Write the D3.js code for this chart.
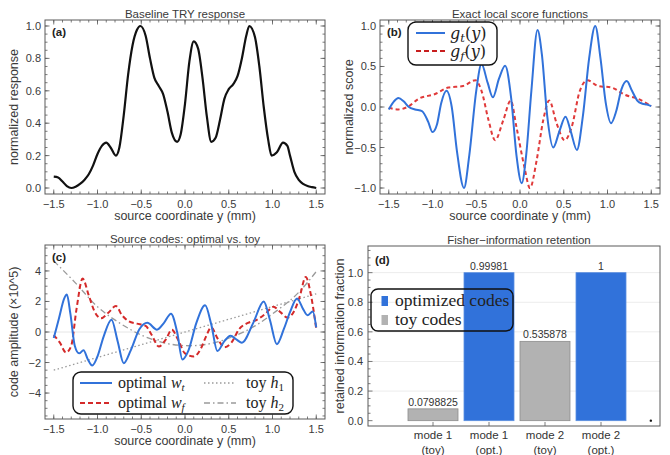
<!DOCTYPE html>
<html>
<head>
<meta charset="utf-8">
<script src="https://cdn.jsdelivr.net/npm/d3@7"></script>
<style>
  body { margin: 0; background: #fff; }
  svg { display: block; font-family: "Liberation Sans", Arial, sans-serif; }
</style>
</head>
<body>
<div id="chart"></div>
<script>
// (a) baseline response, [y, value]
const responsePts = [[-1.5,0.07],[-1.45,0.065],[-1.4,0.04],[-1.35,0.012],[-1.3,0.0],[-1.25,0.008],[-1.2,0.025],[-1.15,0.05],[-1.1,0.085],[-1.05,0.14],[-1.0,0.21],[-0.95,0.26],[-0.9,0.28],[-0.85,0.25],[-0.79,0.2],[-0.75,0.25],[-0.7,0.45],[-0.65,0.7],[-0.6,0.88],[-0.55,0.975],[-0.51,1.0],[-0.45,0.94],[-0.4,0.8],[-0.35,0.68],[-0.3,0.63],[-0.25,0.58],[-0.2,0.47],[-0.15,0.34],[-0.09,0.285],[-0.05,0.33],[0.0,0.52],[0.05,0.78],[0.1,0.905],[0.15,0.86],[0.2,0.68],[0.25,0.44],[0.3,0.285],[0.35,0.31],[0.4,0.42],[0.45,0.55],[0.5,0.61],[0.55,0.64],[0.6,0.69],[0.65,0.8],[0.7,0.94],[0.735,1.0],[0.8,0.93],[0.85,0.75],[0.9,0.5],[0.95,0.3],[0.99,0.2],[1.05,0.22],[1.12,0.28],[1.17,0.26],[1.2,0.2],[1.25,0.1],[1.3,0.05],[1.35,0.025],[1.4,0.012],[1.45,0.005],[1.5,0.0]];

// (b) score functions
const gtPts = [[-1.5,-0.03],[-1.44,0.07],[-1.39,0.11],[-1.33,0.07],[-1.27,0.0],[-1.2,-0.03],[-1.12,-0.05],[-1.05,-0.18],[-1.0,-0.31],[-0.95,-0.22],[-0.9,0.05],[-0.84,0.2],[-0.78,0.0],[-0.72,-0.55],[-0.64,-1.0],[-0.58,-0.6],[-0.5,0.2],[-0.44,0.53],[-0.37,0.3],[-0.31,0.12],[-0.24,0.35],[-0.17,0.51],[-0.1,0.1],[-0.04,-0.6],[0.02,-0.94],[0.07,-0.6],[0.13,0.2],[0.2,0.95],[0.25,0.65],[0.31,-0.1],[0.38,-0.5],[0.45,-0.3],[0.52,-0.12],[0.58,-0.3],[0.65,-0.53],[0.72,-0.1],[0.79,0.6],[0.86,1.0],[0.92,0.6],[0.98,0.05],[1.04,-0.2],[1.1,-0.05],[1.16,0.22],[1.22,0.32],[1.28,0.2],[1.34,0.08],[1.4,0.04],[1.45,0.03],[1.5,0.01]];
const gfPts = [[-1.5,-0.01],[-1.39,-0.03],[-1.27,0.01],[-1.16,0.1],[-0.97,0.16],[-0.82,0.24],[-0.65,0.26],[-0.51,0.33],[-0.44,0.2],[-0.36,-0.16],[-0.285,-0.41],[-0.19,-0.16],[-0.106,0.08],[-0.04,-0.25],[0.05,-0.74],[0.114,-1.0],[0.19,-0.66],[0.266,-0.16],[0.334,0.08],[0.418,-0.2],[0.51,-0.41],[0.59,-0.25],[0.684,0.2],[0.77,0.33],[0.89,0.26],[1.045,0.24],[1.2,0.15],[1.35,0.1],[1.5,0.01]];

// (c) source codes (x 10^5)
const wtPts = [[-1.5,-0.4],[-1.44,0.9],[-1.38,2.2],[-1.35,2.45],[-1.31,1.2],[-1.26,-0.9],[-1.21,-1.4],[-1.16,-1.2],[-1.11,-1.8],[-1.06,-2.2],[-1.0,-1.6],[-0.93,-0.3],[-0.84,0.8],[-0.77,-0.6],[-0.7,-2.05],[-0.62,-1.2],[-0.52,0.2],[-0.43,0.6],[-0.32,0.15],[-0.24,0.6],[-0.16,1.2],[-0.09,0.0],[-0.03,-1.8],[0.04,-1.2],[0.13,0.6],[0.23,1.75],[0.3,0.5],[0.37,-1.25],[0.45,-0.6],[0.52,-0.25],[0.59,-0.5],[0.65,-0.7],[0.78,0.6],[0.9,2.0],[0.97,0.8],[1.05,-0.8],[1.13,0.2],[1.2,1.3],[1.28,2.2],[1.35,1.5],[1.4,1.1],[1.46,1.35],[1.5,0.3]];
const wfPts = [[-1.5,-0.2],[-1.43,-0.7],[-1.36,-1.35],[-1.3,-0.9],[-1.24,1.5],[-1.17,3.5],[-1.1,2.4],[-1.03,1.3],[-0.96,0.9],[-0.87,1.3],[-0.79,1.7],[-0.72,1.1],[-0.64,0.7],[-0.55,0.55],[-0.45,0.4],[-0.38,-0.2],[-0.3,-0.95],[-0.22,-0.5],[-0.15,0.15],[-0.08,-0.5],[0.0,-1.4],[0.1,-1.6],[0.18,-1.1],[0.24,-0.3],[0.3,0.3],[0.37,-0.4],[0.45,-1.0],[0.53,-0.7],[0.62,0.2],[0.72,0.6],[0.82,0.8],[0.92,1.2],[1.01,1.65],[1.09,1.3],[1.17,0.95],[1.25,1.4],[1.31,2.3],[1.38,3.6],[1.44,2.4],[1.5,0.2]];
const h1Pts = [[-1.5,-2.5],[1.5,2.5]];
const h2Pts = [[-1.5,4.66],[-1.25,3.2],[-1.0,1.65],[-0.75,0.6],[-0.5,-0.2],[-0.25,-0.7],[0.05,-0.9],[0.3,-0.75],[0.55,-0.3],[0.8,0.4],[1.05,1.4],[1.3,2.6],[1.5,3.96]];

// (d) Fisher-information retention
const modeLines = [["mode 1","(toy)"],["mode 1","(opt.)"],["mode 2","(toy)"],["mode 2","(opt.)"]];
const retained = [0.0798825, 0.99981, 0.535878, 1];
const retainedText = ["0.0798825","0.99981","0.535878","1"];
const codeKind = ["toy","opt","toy","opt"];

const W = 670, H = 455;
const BLUE = "#3172da", RED = "#d42a2a", GRAY = "#9a9a9a", FRAME = "#5a5a5a", TXT = "#3a3a3a";

const svg = d3.select("#chart").append("svg").attr("width", W).attr("height", H);
const fmt1 = d3.format(".1f");

function frame(g, x, y, o) {
  const [x0, x1] = x.range(), [y0, y1] = y.range(); // y0 bottom
  g.append("rect").attr("x", x0).attr("y", y1).attr("width", x1 - x0).attr("height", y0 - y1)
    .attr("fill", "none").attr("stroke", FRAME).attr("stroke-width", 1);
  const tk = g.append("g").attr("stroke", FRAME).attr("stroke-width", 0.8);
  const xt = (v, len) => {
    tk.append("line").attr("x1", x(v)).attr("x2", x(v)).attr("y1", y0).attr("y2", y0 - len);
    tk.append("line").attr("x1", x(v)).attr("x2", x(v)).attr("y1", y1).attr("y2", y1 + len);
  };
  const yt = (v, len) => {
    tk.append("line").attr("y1", y(v)).attr("y2", y(v)).attr("x1", x0).attr("x2", x0 + len);
    tk.append("line").attr("y1", y(v)).attr("y2", y(v)).attr("x1", x1).attr("x2", x1 - len);
  };
  o.xMinor.forEach(v => xt(v, 2.5));
  o.xMajor.forEach(v => xt(v, 4.5));
  o.yMinor.forEach(v => yt(v, 2.5));
  o.yMajor.forEach(v => yt(v, 4.5));
  g.append("g").selectAll("text").data(o.xMajor).join("text")
    .attr("x", d => x(d)).attr("y", y0 + 14).attr("text-anchor", "middle")
    .attr("font-size", 11).attr("fill", TXT).text(d => fmt1(d));
  g.append("g").selectAll("text").data(o.yMajor).join("text")
    .attr("x", x0 - 4).attr("y", d => y(d) + 4).attr("text-anchor", "end")
    .attr("font-size", 11).attr("fill", TXT).text(o.yFmt);
  g.append("text").attr("x", (x0 + x1) / 2).attr("y", y0 + 26).attr("text-anchor", "middle")
    .attr("font-size", 12.5).attr("fill", TXT).text(o.xLabel);
  g.append("text").attr("transform", `translate(${x0 - 27},${(y0 + y1) / 2}) rotate(-90)`)
    .attr("text-anchor", "middle").attr("font-size", 12.5).attr("fill", TXT).text(o.yLabel);
  g.append("text").attr("x", (x0 + x1) / 2).attr("y", y1 - 2.5).attr("text-anchor", "middle")
    .attr("font-size", 11.5).attr("fill", TXT).text(o.title);
  g.append("text").attr("x", x0 + 7).attr("y", y1 + 16).attr("font-size", 11.5)
    .attr("font-weight", "bold").attr("fill", "#222").text(o.tag);
}

const xMaj = d3.range(-1.5, 1.51, 0.5);
const xMin = d3.range(-1.5, 1.51, 0.1);

function curve(g, x, y, pts, color, width, dash) {
  const line = d3.line().x(d => x(d[0])).y(d => y(d[1])).curve(d3.curveMonotoneX);
  g.append("path").datum(pts).attr("d", line).attr("fill", "none")
    .attr("stroke", color).attr("stroke-width", width)
    .attr("stroke-dasharray", dash || null).attr("stroke-linejoin", "round");
}

// ---------- (a)
{
  const g = svg.append("g");
  const x = d3.scaleLinear().domain([-1.6, 1.6]).range([45, 325]);
  const y = d3.scaleLinear().domain([-0.037, 1.037]).range([194, 20]);
  curve(g, x, y, responsePts, "#111", 2.2);
  frame(g, x, y, {
    xMajor: xMaj, xMinor: xMin,
    yMajor: d3.range(0, 1.01, 0.2), yMinor: d3.range(0, 1.01, 0.05),
    yFmt: d => fmt1(d), xLabel: "source coordinate y (mm)", yLabel: "normalized response",
    title: "Baseline TRY response", tag: "(a)"
  });
}

// ---------- (b)
{
  const g = svg.append("g");
  const x = d3.scaleLinear().domain([-1.6, 1.6]).range([380, 660]);
  const y = d3.scaleLinear().domain([-1.074, 1.074]).range([194, 20]);
  curve(g, x, y, gfPts, "#e03a3a", 2, "4,3");
  curve(g, x, y, gtPts, BLUE, 2);
  frame(g, x, y, {
    xMajor: xMaj, xMinor: xMin,
    yMajor: d3.range(-1, 1.01, 0.5), yMinor: d3.range(-1, 1.01, 0.1),
    yFmt: d => fmt1(d), xLabel: "source coordinate y (mm)", yLabel: "normalized score",
    title: "Exact local score functions", tag: "(b)"
  });
  const lg = g.append("g");
  lg.append("rect").attr("x", 408).attr("y", 22).attr("width", 89).attr("height", 43).attr("rx", 8)
    .attr("fill", "#fff").attr("stroke", "#111").attr("stroke-width", 1.4);
  lg.append("line").attr("x1", 416).attr("x2", 445).attr("y1", 33).attr("y2", 33).attr("stroke", BLUE).attr("stroke-width", 2);
  lg.append("line").attr("x1", 416).attr("x2", 445).attr("y1", 51).attr("y2", 51).attr("stroke", "#c81e1e").attr("stroke-width", 2).attr("stroke-dasharray", "5,3");
  [["t", 39], ["f", 57]].forEach(([s, yy]) => {
    const t = lg.append("text").attr("x", 450).attr("y", yy).attr("font-family", "'DejaVu Serif', serif").attr("font-size", 16).attr("fill", "#222");
    t.append("tspan").attr("font-style", "italic").text("g");
    t.append("tspan").attr("font-style", "italic").attr("font-size", 11.5).attr("dy", 3).text(s);
    t.append("tspan").attr("dy", -3).text("(");
    t.append("tspan").attr("font-style", "italic").text("y");
    t.append("tspan").text(")");
  });
}

// ---------- (c)
{
  const g = svg.append("g");
  const x = d3.scaleLinear().domain([-1.6, 1.6]).range([45, 325]);
  const y = d3.scaleLinear().domain([-5.7, 5.7]).range([419, 245]);
  g.append("line").attr("x1", 45).attr("x2", 325).attr("y1", y(0)).attr("y2", y(0)).attr("stroke", "#e6e6e6");
  curve(g, x, y, h1Pts, GRAY, 1.3, "1.5,2.5");
  curve(g, x, y, h2Pts, GRAY, 1.3, "6,3,1.5,3");
  curve(g, x, y, wfPts, RED, 2, "5,3");
  curve(g, x, y, wtPts, BLUE, 2);
  frame(g, x, y, {
    xMajor: xMaj, xMinor: xMin,
    yMajor: d3.range(-4, 4.1, 2), yMinor: d3.range(-5.5, 5.6, 0.5),
    yFmt: d => d3.format("d")(d), xLabel: "source coordinate y (mm)", yLabel: "code amplitude  (\u00d710^5)",
    title: "Source codes: optimal vs. toy", tag: "(c)"
  });
  const lg = g.append("g");
  lg.append("rect").attr("x", 73).attr("y", 372).attr("width", 220).attr("height", 42).attr("rx", 8)
    .attr("fill", "#fff").attr("stroke", "#111").attr("stroke-width", 1.4);
  const entries = [
    { x: 80, y: 383, color: BLUE, dash: null, w: 2, pre: "optimal ", v: "w", s: "t" },
    { x: 80, y: 403, color: RED, dash: "5,3", w: 2, pre: "optimal ", v: "w", s: "f" },
    { x: 204, y: 383, color: GRAY, dash: "1.5,2.5", w: 1.3, pre: "toy ", v: "h", s: "1" },
    { x: 204, y: 403, color: GRAY, dash: "6,3,1.5,3", w: 1.3, pre: "toy ", v: "h", s: "2" }
  ];
  entries.forEach((e, i) => {
    lg.append("line").attr("x1", e.x).attr("x2", e.x + 32).attr("y1", e.y).attr("y2", e.y)
      .attr("stroke", e.color).attr("stroke-width", e.w).attr("stroke-dasharray", e.dash);
    const t = lg.append("text").attr("x", i < 2 ? 118 : 246).attr("y", e.y + 5)
      .attr("font-family", "'Liberation Serif', serif").attr("font-size", 16).attr("fill", "#222");
    t.append("tspan").text(e.pre);
    t.append("tspan").attr("font-style", "italic").text(e.v);
    t.append("tspan").attr("font-style", e.s.match(/\d/) ? "normal" : "italic").attr("font-size", 11).attr("dy", 3).text(e.s);
  });
}

// ---------- (d)
{
  const g = svg.append("g");
  const xc = d3.scaleLinear().domain([0, 3]).range([433, 601]);
  const y = d3.scaleLinear().domain([-0.036, 1.18]).range([426, 246]);
  const x0 = 368, x1 = 660, barW = 50;
  g.append("g").selectAll("line").data(d3.range(0.2, 1.01, 0.2)).join("line")
    .attr("x1", x0).attr("x2", x1).attr("y1", d => y(d)).attr("y2", d => y(d)).attr("stroke", "#ececec");
  g.append("g").selectAll("rect").data(retained).join("rect")
    .attr("x", (d, i) => xc(i) - barW / 2).attr("width", barW)
    .attr("y", d => y(d)).attr("height", d => y(0) - y(d))
    .attr("fill", (d, i) => codeKind[i] === "opt" ? BLUE : "#b2b2b2")
    .attr("stroke", (d, i) => codeKind[i] === "opt" ? "#5b8fe0" : "#8c8c8c").attr("stroke-width", 0.8);
  g.append("g").selectAll("text").data(retainedText).join("text")
    .attr("x", (d, i) => xc(i)).attr("y", (d, i) => y(retained[i]) - 3).attr("text-anchor", "middle")
    .attr("font-size", 10.5).attr("fill", "#333").text(d => d);
  g.append("circle").attr("cx", xc(3.89)).attr("cy", y(0)).attr("r", 1.2).attr("fill", "#111");
  g.append("rect").attr("x", x0).attr("y", 246).attr("width", x1 - x0).attr("height", 180)
    .attr("fill", "none").attr("stroke", FRAME);
  const tk = g.append("g").attr("stroke", FRAME).attr("stroke-width", 0.8);
  d3.range(0, 1.16, 0.05).forEach((v, i) => {
    tk.append("line").attr("x1", x0).attr("x2", x0 + (i % 4 === 0 ? 4.5 : 2.5)).attr("y1", y(v)).attr("y2", y(v));
  });
  retained.forEach((d, i) => tk.append("line").attr("x1", xc(i)).attr("x2", xc(i)).attr("y1", 426).attr("y2", 422));
  g.append("g").selectAll("text").data(d3.range(0, 1.01, 0.2)).join("text")
    .attr("x", x0 - 5).attr("y", d => y(d) + 4).attr("text-anchor", "end")
    .attr("font-size", 11).attr("fill", TXT).text(d => fmt1(d));
  modeLines.forEach((m, i) => {
    g.append("text").attr("x", xc(i)).attr("y", 439).attr("text-anchor", "middle").attr("font-size", 11.5).attr("fill", "#333").text(m[0]);
    g.append("text").attr("x", xc(i)).attr("y", 454).attr("text-anchor", "middle").attr("font-size", 11.5).attr("fill", "#333").text(m[1]);
  });
  g.append("text").attr("transform", `translate(344,${(246 + 426) / 2}) rotate(-90)`)
    .attr("text-anchor", "middle").attr("font-size", 12.5).attr("fill", TXT).text("retained information fraction");
  g.append("text").attr("x", 519).attr("y", 243.5).attr("text-anchor", "middle")
    .attr("font-size", 11.5).attr("fill", TXT).text("Fisher\u2212information retention");
  g.append("text").attr("x", 375).attr("y", 264).attr("font-size", 11.5).attr("font-weight", "bold").attr("fill", "#222").text("(d)");
  const lg = g.append("g");
  lg.append("rect").attr("x", 371).attr("y", 289).attr("width", 142).attr("height", 42).attr("rx", 7)
    .attr("fill", "none").attr("stroke", "#111").attr("stroke-width", 1.4);
  [["optimized codes", BLUE, 296], ["toy codes", "#b2b2b2", 315]].forEach(([t, c, yy]) => {
    lg.append("rect").attr("x", 381.5).attr("y", yy).attr("width", 6.5).attr("height", 10).attr("fill", c);
    lg.append("text").attr("x", 395).attr("y", yy + 9.5).attr("font-family", "'Liberation Serif', serif")
      .attr("font-size", 17.5).attr("fill", "#222").text(t);
  });
}
</script>
</body>
</html>
